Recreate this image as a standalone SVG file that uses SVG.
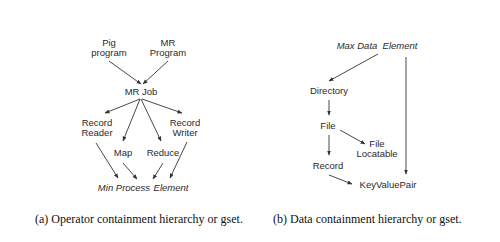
<svg xmlns="http://www.w3.org/2000/svg" width="500" height="242" viewBox="0 0 500 242">
<defs>
<marker id="ah" viewBox="0 0 10 10" refX="9" refY="5" markerWidth="5" markerHeight="5" orient="auto-start-reverse" markerUnits="userSpaceOnUse"><path d="M0,1 L10,5 L0,9 z" fill="#333"/></marker>
<style>
.n{font-family:"Liberation Sans",Arial,sans-serif;font-size:9.5px;fill:#2a2a2a;text-anchor:middle}
.i{font-style:italic}
.c{font-family:"Liberation Serif","Times New Roman",serif;font-size:12px;fill:#111}
.e line{stroke:#333;stroke-width:0.9;marker-end:url(#ah)}
</style>
</defs>
<rect width="500" height="242" fill="#fff"/>
<g id="pig"><text class="n" x="109" y="46">Pig</text><text class="n" x="109" y="56">program</text></g>
<g id="mrprogram"><text class="n" x="168" y="46">MR</text><text class="n" x="168" y="56">Program</text></g>
<g id="mrjob"><text class="n" x="141" y="95">MR Job</text></g>
<g id="recordreader"><text class="n" x="97" y="126">Record</text><text class="n" x="97" y="136">Reader</text></g>
<g id="recordwriter"><text class="n" x="185" y="126">Record</text><text class="n" x="185" y="136">Writer</text></g>
<g id="map"><text class="n" x="123" y="156">Map</text></g>
<g id="reduce"><text class="n" x="163" y="156">Reduce</text></g>
<g id="minprocess"><text class="n i" x="124" y="191">Min Process</text><text class="n i" x="171" y="191">Element</text></g>
<g id="maxdata"><text class="n i" x="357" y="49">Max Data</text><text class="n i" x="400" y="49">Element</text></g>
<g id="directory"><text class="n" x="329" y="94">Directory</text></g>
<g id="file"><text class="n" x="328" y="129">File</text></g>
<g id="filelocatable"><text class="n" x="377" y="147">File</text><text class="n" x="377" y="157">Locatable</text></g>
<g id="record"><text class="n" x="328" y="169">Record</text></g>
<g id="keyvaluepair"><text class="n" x="388" y="188">KeyValuePair</text></g>
<g id="connectors" class="e">
<line x1="109" y1="61" x2="141" y2="84"/>
<line x1="168" y1="61" x2="143" y2="84"/>
<line x1="140" y1="99" x2="105" y2="113"/>
<line x1="140" y1="99" x2="123" y2="141"/>
<line x1="141" y1="99" x2="161" y2="141"/>
<line x1="142" y1="99" x2="182" y2="113"/>
<line x1="96" y1="143" x2="118" y2="178"/>
<line x1="123" y1="163" x2="137" y2="179"/>
<line x1="163" y1="163" x2="153" y2="179"/>
<line x1="187" y1="142" x2="170" y2="178"/>
<line x1="378" y1="54" x2="329" y2="81"/>
<line x1="406" y1="57" x2="406" y2="174"/>
<line x1="329" y1="100" x2="329" y2="115"/>
<line x1="340" y1="130" x2="365" y2="144"/>
<line x1="329" y1="135" x2="329" y2="155"/>
<line x1="329" y1="175" x2="352" y2="184"/>
</g>
<text class="c" x="35" y="223">(a) Operator containment hierarchy or gset.</text>
<text class="c" x="273" y="223">(b) Data containment hierarchy or gset.</text>
</svg>
